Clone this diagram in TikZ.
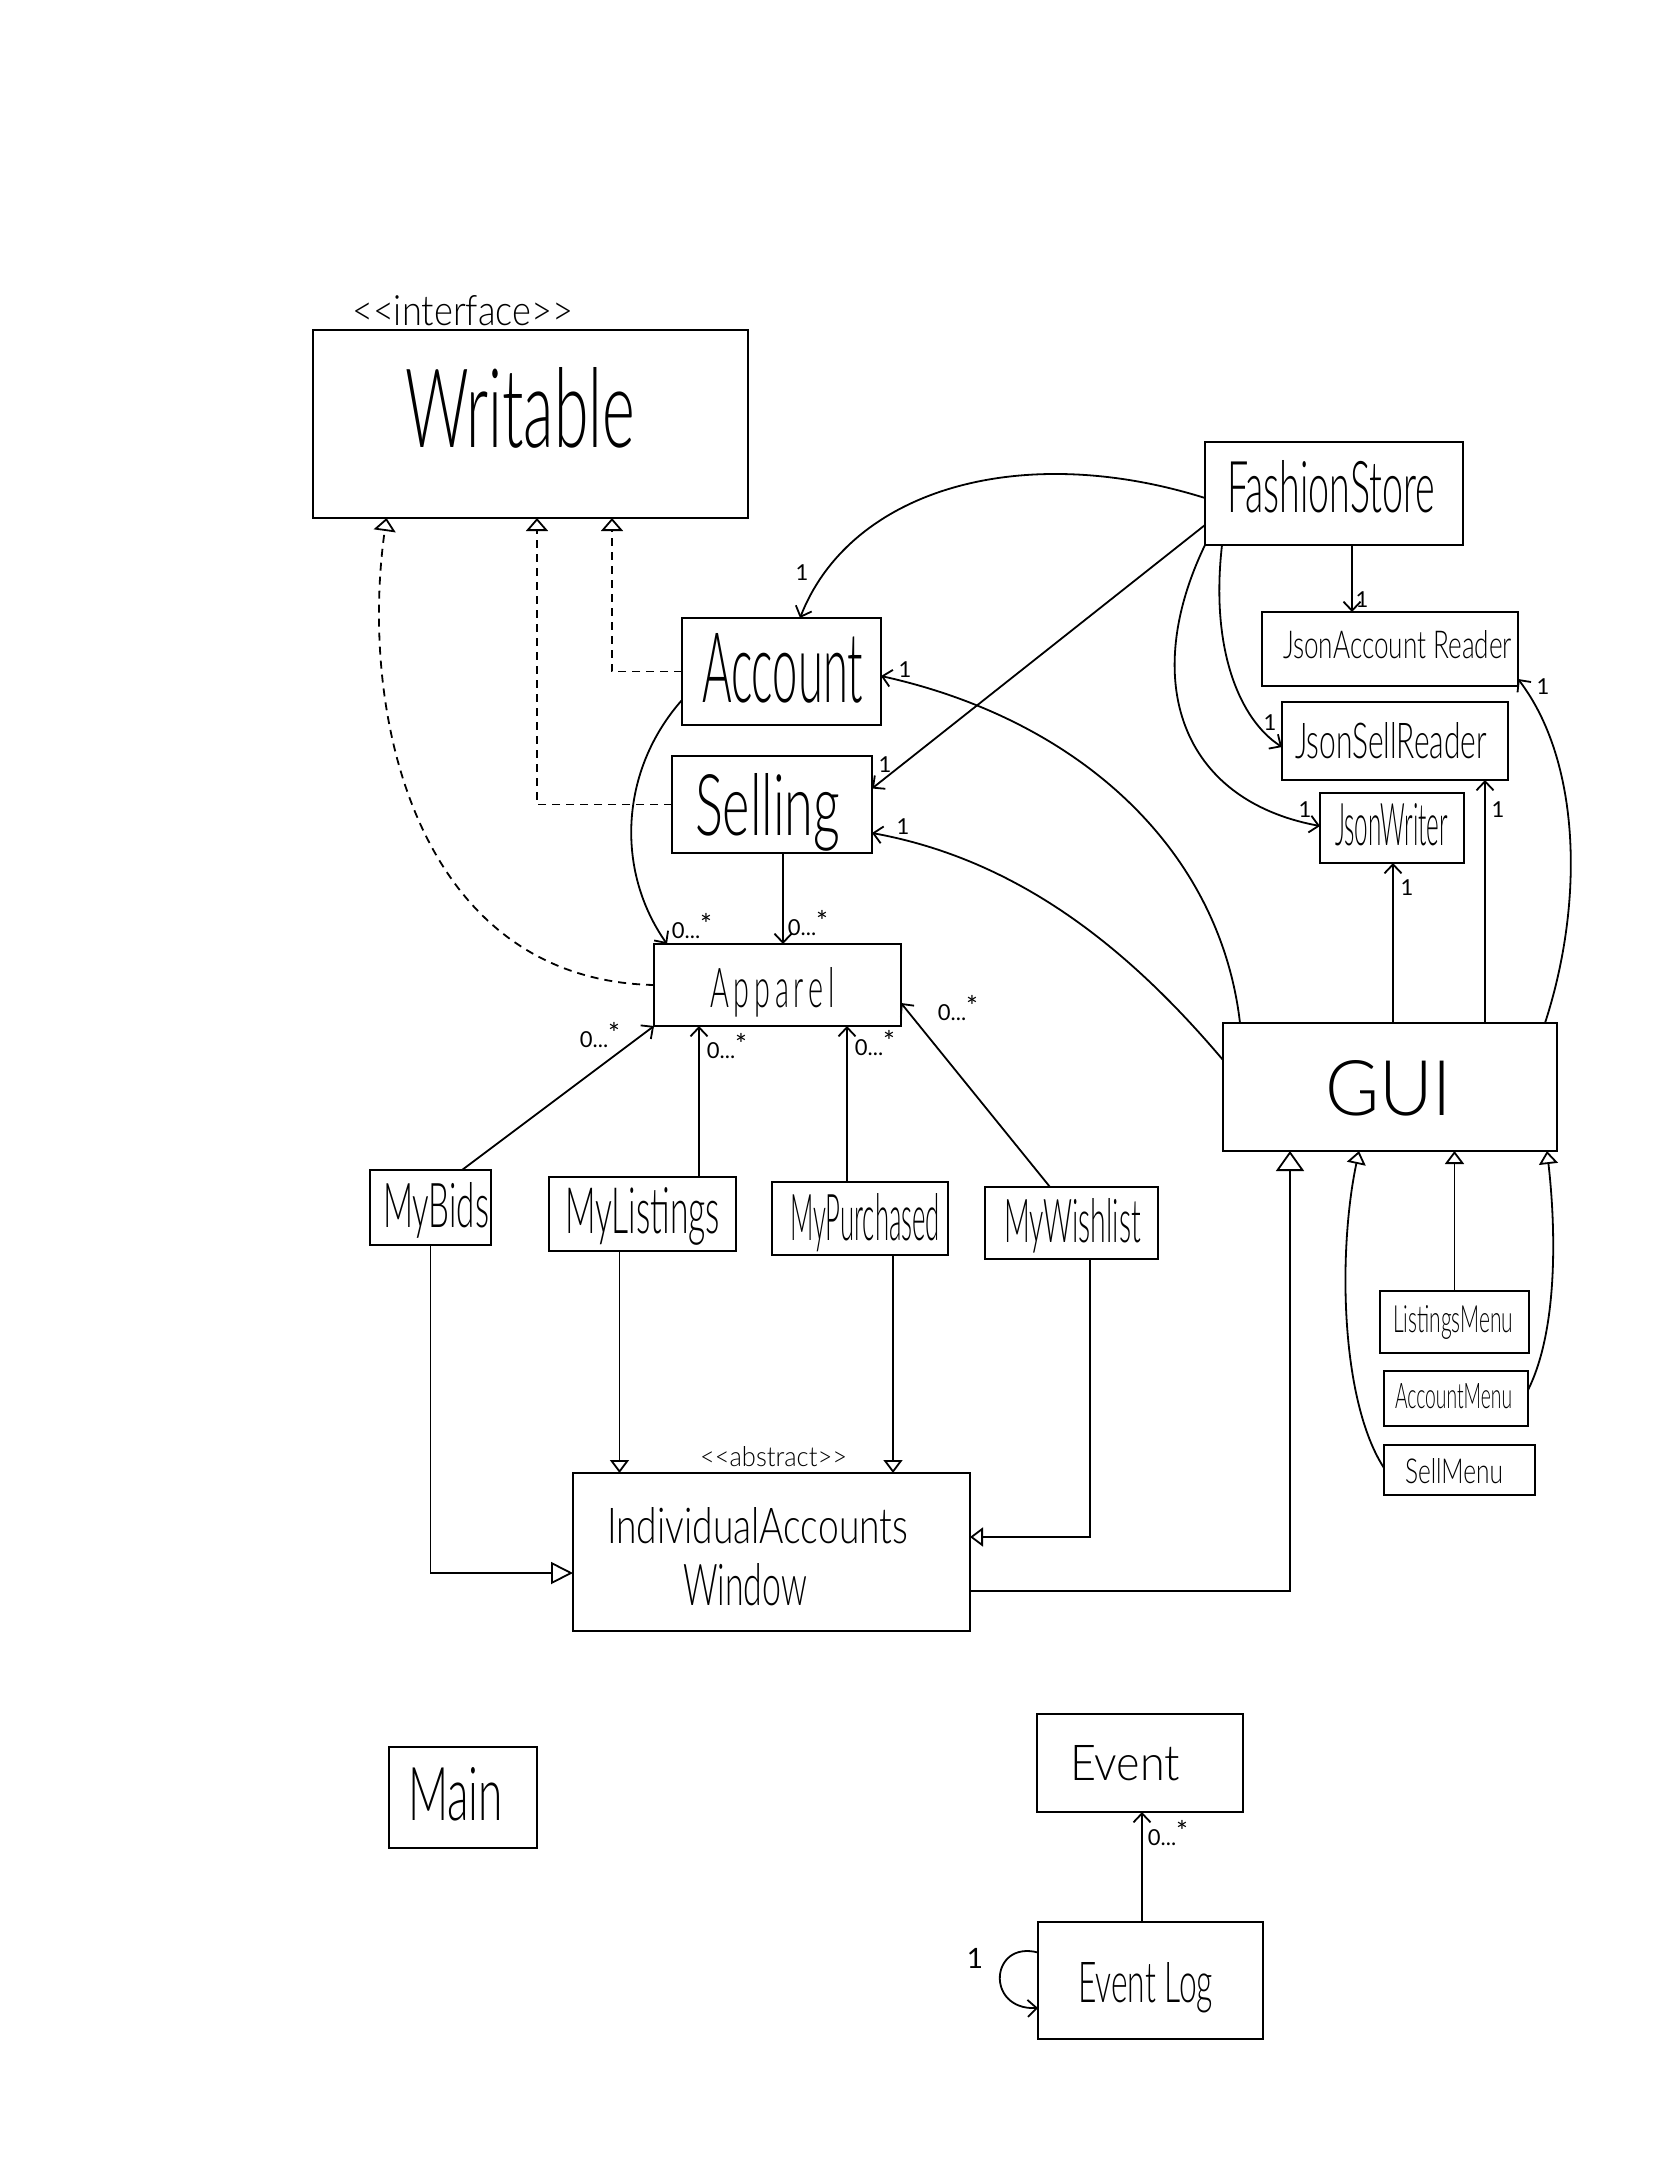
\documentclass[tikz,border=0pt]{standalone}
\usepackage{fontspec}
\setmainfont{Lato}[UprightFont={* Light}]
\newfontfamily\lblfont{Lato}
\usetikzlibrary{arrows.meta,calc}
\newcommand{\hw}[3]{\resizebox{#1pt}{#2pt}{#3}}
\newcommand{\zs}{0...\raisebox{0.2em}{\fontsize{28}{28}\selectfont *}}
\newcommand{\lt}{\mbox{<}}
\newcommand{\gt}{\mbox{>}}
\begin{document}
\begin{tikzpicture}[x=1pt,y=-1pt,
  box/.style={draw, line width=2.2pt, rectangle, inner sep=0pt, outer sep=0pt},
  txt/.style={anchor=base west, inner sep=0pt, outer sep=0pt},
  lbl/.style={inner sep=0pt, font=\lblfont\fontsize{22}{22}\selectfont},
  conn/.style={line width=1.8pt},
  assoc/.style={conn, -{Straight Barb[length=9pt,width=17pt,line width=1.8pt]}},
  real/.style={conn, dash pattern=on 8pt off 6pt, -{Triangle[open,length=13pt,width=22pt,line width=1.8pt]}},
  gen/.style={conn, -{Triangle[open,length=13pt,width=19pt,line width=1.8pt]}},
  genbig/.style={conn, -{Triangle[open,length=20pt,width=28pt,line width=1.8pt]}},
  genmid/.style={conn, -{Triangle[open,length=22pt,width=22pt,line width=1.8pt]}}
]
\useasboundingbox (0,0) rectangle (1668,2157);
\fill[white] (0,0) rectangle (1668,2157);

% ---------- boxes ----------
\node[box, minimum width=435pt, minimum height=188pt] (writable) at (530.5,424) {};
\node[box, minimum width=258pt, minimum height=103pt] (fashion) at (1334,493.5) {};
\node[box, minimum width=199pt, minimum height=107pt] (account) at (781.5,671.5) {};
\node[box, minimum width=200pt, minimum height=97pt] (selling) at (772,804.5) {};
\node[box, minimum width=256pt, minimum height=74pt] (jar) at (1390,649) {};
\node[box, minimum width=226pt, minimum height=78pt] (jsr) at (1395,741) {};
\node[box, minimum width=144pt, minimum height=70pt] (jw) at (1392,828) {};
\node[box, minimum width=247pt, minimum height=82pt] (apparel) at (777.5,985) {};
\node[box, minimum width=334pt, minimum height=128pt] (gui) at (1390,1087) {};
\node[box, minimum width=121pt, minimum height=75pt] (mybids) at (430.5,1207.5) {};
\node[box, minimum width=187pt, minimum height=74pt] (mylistings) at (642.5,1214) {};
\node[box, minimum width=176pt, minimum height=73pt] (mypurchased) at (860,1218.5) {};
\node[box, minimum width=173pt, minimum height=72pt] (mywishlist) at (1071.5,1223) {};
\node[box, minimum width=149pt, minimum height=62pt] (listingsmenu) at (1454.5,1322) {};
\node[box, minimum width=144pt, minimum height=55pt] (accountmenu) at (1456,1398.5) {};
\node[box, minimum width=151pt, minimum height=50pt] (sellmenu) at (1459.5,1470) {};
\node[box, minimum width=397pt, minimum height=158pt] (iaw) at (771.5,1552) {};
\node[box, minimum width=148pt, minimum height=101pt] (main) at (463,1797.5) {};
\node[box, minimum width=206pt, minimum height=98pt] (event) at (1140,1763) {};
\node[box, minimum width=225pt, minimum height=117pt] (eventlog) at (1150.5,1980.5) {};

% ---------- texts ----------
\node[txt] (t-interface) at (352,325) {\hw{221}{30}{\lt\lt interface\gt\gt}};
\node[txt] (t-writable) at (405,447) {\hw{230}{80}{Writable}};
\node[txt] (t-fashion) at (1227,512) {\hw{208}{52}{FashionStore}};
\node[txt] (t-account) at (702,702) {\hw{161}{69}{Account}};
\node[txt] (t-selling) at (695,835) {\hw{145}{62}{Selling}};
\node[txt] (t-jar) at (1283,658) {\hw{229}{28}{JsonAccount Reader}};
\node[txt] (t-jsr) at (1295,758) {\hw{192}{36}{JsonSellReader}};
\node[txt] (t-jw) at (1335,845) {\hw{113}{42}{JsonWriter}};
\node[txt] (t-apparel) at (710,1007) {\hw{125}{40}{A\,p\,p\,a\,r\,e\,l}};
\node[txt] (t-gui) at (1325,1115) {\hw{127}{55}{GUI}};
\node[txt] (t-mybids) at (383,1227) {\hw{106}{45}{MyBids}};
\node[txt] (t-mylistings) at (565,1233) {\hw{155}{46}{MyListings}};
\node[txt] (t-mypurchased) at (790,1240) {\hw{150}{47}{MyPurchased}};
\node[txt] (t-mywishlist) at (1004,1242) {\hw{137}{44}{MyWishlist}};
\node[txt] (t-listingsmenu) at (1393,1332) {\hw{120}{27}{ListingsMenu}};
\node[txt] (t-accountmenu) at (1395,1408) {\hw{117}{25}{AccountMenu}};
\node[txt] (t-sellmenu) at (1405,1483) {\hw{98}{25}{SellMenu}};
\node[txt] (t-abstract) at (700,1466) {\hw{147}{20}{\lt\lt abstract\gt\gt}};
\node[txt] (t-iaw1) at (607,1543) {\hw{301}{36}{IndividualAccounts}};
\node[txt] (t-iaw2) at (683,1605) {\hw{124}{42}{Window}};
\node[txt] (t-main) at (408,1820) {\hw{95}{53}{Main}};
\node[txt] (t-event) at (1070,1780) {\hw{110}{35}{Event}};
\node[txt] (t-eventlog) at (1078,2002) {\hw{135}{40}{Event Log}};

% ---------- helper coordinates ----------
\coordinate (wA) at ([xshift=81.5pt]writable.south);
\coordinate (wS) at ([xshift=6.5pt]writable.south);
\coordinate (wP) at ([xshift=-144pt]writable.south);
\coordinate (fsJ) at ([xshift=18pt]fashion.south);
\coordinate (guiJW) at ([xshift=3pt]gui.north);
\coordinate (guiJSR) at ([xshift=95pt]gui.north);
\coordinate (selA) at ([xshift=11pt]selling.south);
\coordinate (mlA) at ([xshift=56.5pt]mylistings.north);
\coordinate (mpA) at ([xshift=-13pt]mypurchased.north);
\coordinate (mlI) at ([xshift=-23pt]mylistings.south);
\coordinate (mpI) at ([xshift=33pt]mypurchased.south);
\coordinate (elE) at ([xshift=-8.5pt]eventlog.north);

% ---------- realization (dashed) ----------
\draw[real] (account.west) -| (wA);
\draw[real] (selling.west) -| (wS);
\draw[real] (apparel.west) .. controls (420,980) and (358,720) .. (wP);

% ---------- FashionStore associations ----------
\draw[assoc] ([yshift=-4.5pt]fashion.west) .. controls (1020,440) and (850,490) .. ([xshift=18.5pt]account.north);
\draw[assoc] ([yshift=-31.5pt]fashion.west) -- ([yshift=16pt]selling.east);
\draw[assoc] (fsJ) -- (fsJ |- jar.north);
\draw[assoc] ([xshift=-112pt]fashion.south) .. controls (1210,650) and (1240,720) .. ([yshift=-6pt]jsr.west);
\draw[assoc] (fashion.south west) .. controls (1140,680) and (1180,800) .. ([yshift=2pt]jw.west);

% ---------- GUI associations ----------
\draw[assoc] ([xshift=-150pt]gui.north) .. controls (1220,850) and (1080,720) .. ([yshift=-4.5pt]account.east);
\draw[assoc] ([yshift=27pt]gui.west) .. controls (1130,950) and (1020,860) .. ([yshift=-28.5pt]selling.east);
\draw[assoc] (guiJW) -- (guiJW |- jw.south);
\draw[assoc] (guiJSR) -- (guiJSR |- jsr.south);
\draw[assoc] ([xshift=155pt]gui.north) .. controls (1585,900) and (1580,760) .. ([yshift=-30pt]jar.east);

% ---------- to Apparel ----------
\draw[assoc] ([yshift=-28.5pt]account.west) .. controls (620,770) and (615,870) .. ([xshift=-110.5pt]apparel.north);
\draw[assoc] (selA) -- (selA |- apparel.north);
\draw[assoc] ([xshift=31.5pt]mybids.north) -- (apparel.south west);
\draw[assoc] (mlA) -- (mlA |- apparel.south);
\draw[assoc] (mpA) -- (mpA |- apparel.south);
\draw[assoc] ([xshift=-21.5pt]mywishlist.north) -- ([yshift=-18pt]apparel.east);

% ---------- generalizations to IndividualAccountsWindow ----------
\draw[genmid] (mybids.south) |- ([yshift=-21pt]iaw.west);
\draw[gen] (mlI) -- (mlI |- iaw.north);
\draw[gen] (mpI) -- (mpI |- iaw.north);
\draw[gen] ([xshift=18.5pt]mywishlist.south) |- ([yshift=15pt]iaw.east);

% ---------- generalizations to GUI ----------
\draw[genbig] ([yshift=-39pt]iaw.east) -| ([xshift=-100pt]gui.south);
\draw[gen] (listingsmenu.north) -- (listingsmenu.north |- gui.south);
\draw[gen] ([yshift=8.5pt]accountmenu.east) .. controls (1558,1330) and (1556,1230) .. ([xshift=157pt]gui.south);
\draw[gen] ([yshift=2pt]sellmenu.west) .. controls (1340,1400) and (1338,1250) .. ([xshift=-31pt]gui.south);

% ---------- Event log ----------
\draw[assoc] (elE) -- (elE |- event.south);
\draw[assoc] ([yshift=28pt]eventlog.west) .. controls (990,1940) and (985,2010) .. ([yshift=-27.5pt]eventlog.west);

% ---------- multiplicity labels ----------
\node[lbl] (m1) at (802,573) {1};
\node[lbl] (m2) at (905,670) {1};
\node[lbl] (m3) at (885,765) {1};
\node[lbl] (m4) at (903,827) {1};
\node[lbl] (m5) at (1362,600) {1};
\node[lbl] (m6) at (1270,723) {1};
\node[lbl] (m7) at (1305,810) {1};
\node[lbl] (m8) at (1407,888) {1};
\node[lbl] (m9) at (1498,810) {1};
\node[lbl] (m10) at (1543,687) {1};
\node[lbl] (m11) at (692,926) {\zs};
\node[lbl] (m12) at (808,923) {\zs};
\node[lbl] (m13) at (600,1035) {\zs};
\node[lbl] (m14) at (727,1046) {\zs};
\node[lbl] (m15) at (875,1043) {\zs};
\node[lbl] (m16) at (958,1008) {\zs};
\node[lbl] (m17) at (1168,1833) {\zs};
\node[lbl, font=\lblfont\fontsize{28}{28}\selectfont] (m18) at (975,1958) {1};
\end{tikzpicture}
\end{document}
